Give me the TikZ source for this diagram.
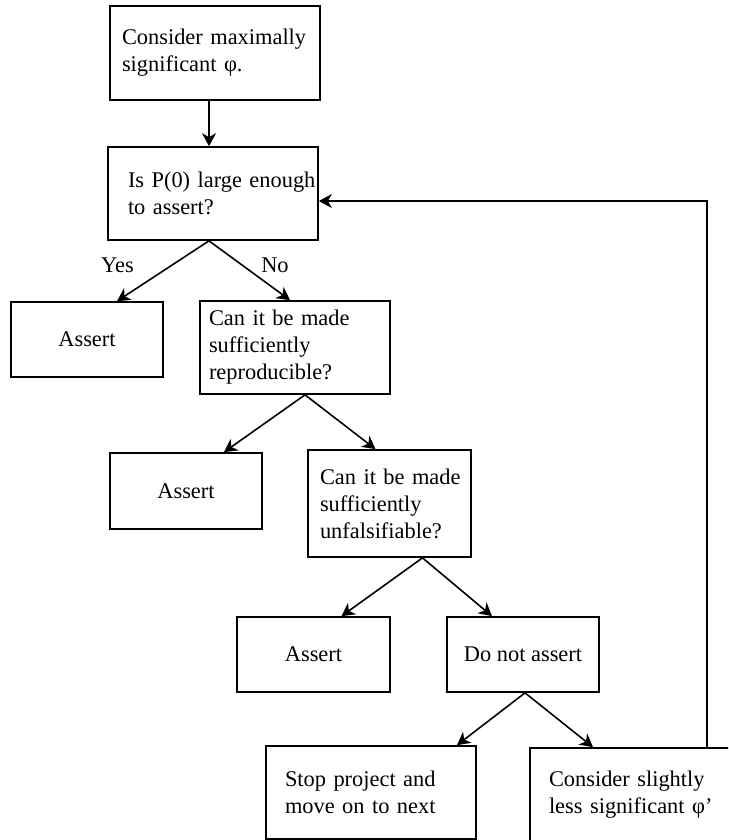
\documentclass[tikz,border=0pt]{standalone}
\usepackage{fontspec}
\setmainfont{Liberation Serif}
\usetikzlibrary{arrows.meta}
\tikzset{
  box/.style={draw, line width=1.7pt, inner sep=0pt, align=left},
  link/.style={-{Stealth[length=13pt,width=14pt,inset=4pt]}, line width=1.6pt},
}
\begin{document}
\begin{tikzpicture}[x=1pt,y=-1pt,font=\fontsize{22.4pt}{27pt}\selectfont]
\useasboundingbox (0,0) rectangle (728,840);
\clip (0,0) rectangle (728,840);
\node[box, minimum width=210pt, minimum height=94pt, text width=186pt] (cons) at (215,53) {Consider maximally\\significant φ.};
\node[box, minimum width=210pt, minimum height=93pt, text width=170pt] (ask) at (213,193.5) {\mbox{Is P(0) large enough}\\to assert?};
\node[box, minimum width=152pt, minimum height=75pt] (assertA) at (87,339.5) {Assert};
\node[box, minimum width=190pt, minimum height=93pt, text width=172pt] (repro) at (295,347.5) {Can it be made\\sufficiently\\reproducible?};
\node[box, minimum width=152pt, minimum height=76pt] (assertB) at (186,491) {Assert};
\node[box, minimum width=163pt, minimum height=107pt, text width=139pt] (unfals) at (389.5,503.5) {\mbox{Can it be made}\\sufficiently\\unfalsifiable?};
\node[box, minimum width=153pt, minimum height=75pt] (assertC) at (313.5,654.5) {Assert};
\node[box, minimum width=152pt, minimum height=75pt] (noassert) at (523,654.5) {Do not assert};
\node[box, minimum width=210pt, minimum height=93pt, text width=172pt] (stop) at (371,792.5) {Stop project and\\move on to next};
\node[box, minimum width=210pt, minimum height=93pt, text width=172pt] (slight) at (635,794.5) {Consider slightly\\less significant φ’};
\node (yes) at (117.5,265) {Yes};
\node (no) at (275,265) {No};
\draw[link] ([xshift=-6pt]cons.south) -- ([xshift=-4pt]ask.north);
\draw[link] ([xshift=-4pt]ask.south) -- ([xshift=30pt]assertA.north);
\draw[link] ([xshift=-4pt]ask.south) -- ([xshift=-5pt]repro.north);
\draw[link] ([xshift=10pt]repro.south) -- ([xshift=38pt]assertB.north);
\draw[link] ([xshift=10pt]repro.south) -- ([xshift=-14pt]unfals.north);
\draw[link] ([xshift=33pt]unfals.south) -- ([xshift=28pt]assertC.north);
\draw[link] ([xshift=33pt]unfals.south) -- ([xshift=-31pt]noassert.north);
\draw[link] ([xshift=2pt]noassert.south) -- ([xshift=86pt]stop.north);
\draw[link] ([xshift=2pt]noassert.south) -- ([xshift=-42pt]slight.north);
\draw[link] ([xshift=72pt]slight.north) |- ([yshift=-7.5pt]ask.east);
\end{tikzpicture}
\end{document}
